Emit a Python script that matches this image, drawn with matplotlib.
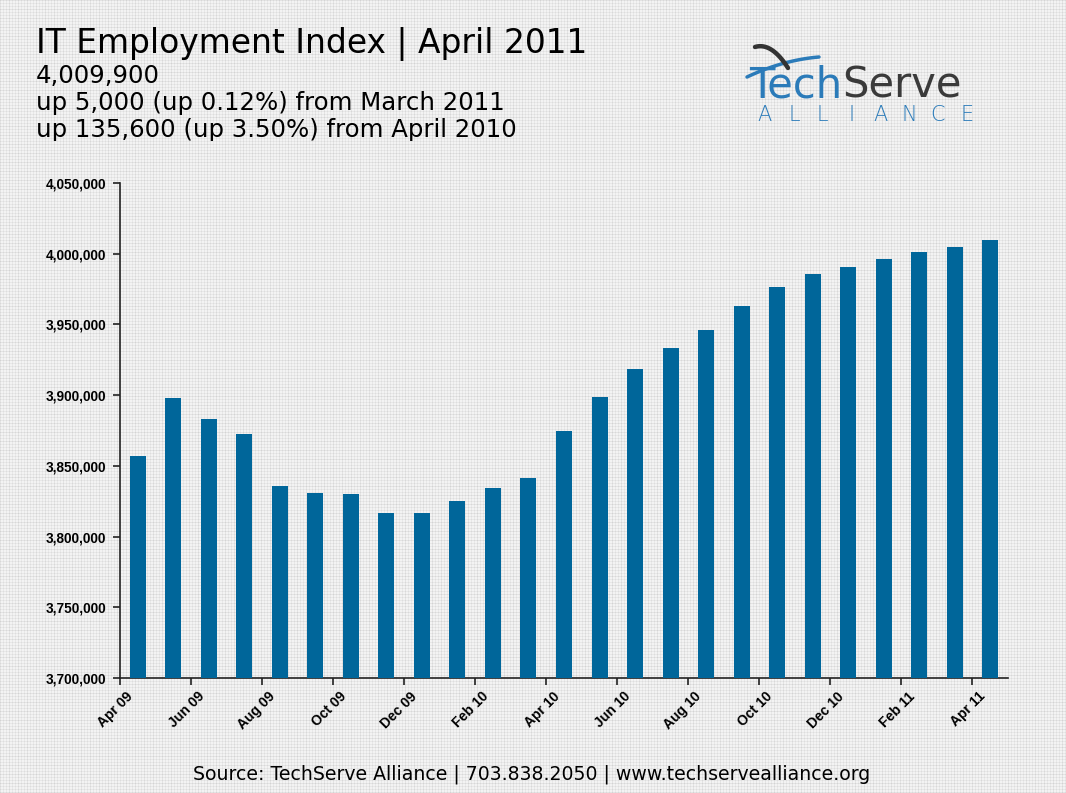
import numpy as np
import matplotlib
matplotlib.use("Agg")
import matplotlib.pyplot as plt
from matplotlib.patches import Rectangle
from matplotlib.ticker import FuncFormatter, FixedLocator

# monthly IT employment index, Apr 2009 .. Apr 2011
months = ["Apr 09", "May 09", "Jun 09", "Jul 09", "Aug 09", "Sep 09", "Oct 09",
          "Nov 09", "Dec 09", "Jan 10", "Feb 10", "Mar 10", "Apr 10", "May 10",
          "Jun 10", "Jul 10", "Aug 10", "Sep 10", "Oct 10", "Nov 10", "Dec 10",
          "Jan 11", "Feb 11", "Mar 11", "Apr 11"]
values = [3857000, 3898000, 3883000, 3872500, 3836000, 3831000, 3830000,
          3817000, 3817000, 3825000, 3834000, 3841500, 3874300, 3898700,
          3918500, 3933000, 3946000, 3963000, 3976500, 3985700, 3990600,
          3996300, 4001200, 4004900, 4009900]
y_ticks = [3700000, 3750000, 3800000, 3850000, 3900000, 3950000, 4000000, 4050000]

W, H = 1066, 793
BAR = "#00669a"
LOGO_BLUE = "#2b7bb9"

fig = plt.figure(figsize=(W / 100, H / 100), dpi=100)

# textured light-gray background
bg = fig.add_axes([0, 0, 1, 1], zorder=-10)
tex = np.full((H, W), 0.955)
tex[::3, :] -= 0.045
tex[:, ::3] -= 0.045
tex[::9, :] -= 0.02
tex[:, ::9] -= 0.02
bg.imshow(tex, cmap="gray", vmin=0, vmax=1, aspect="auto", interpolation="nearest")
bg.axis("off")

# main chart
ax = fig.add_axes([120 / W, 1 - 678 / H, (1008 - 120) / W, (678 - 183) / H])
ax.set_facecolor("none")
x = np.arange(len(months))
ax.bar(x, values, width=0.45, color=BAR, zorder=3)
ax.set_xlim(-0.5, len(months) - 0.5)
ax.set_ylim(y_ticks[0], y_ticks[-1])

ax.yaxis.set_major_locator(FixedLocator(y_ticks))
ax.yaxis.set_major_formatter(FuncFormatter(lambda v, p: f"{int(v):,}"))
ax.set_xticks(x[::2] - 0.5)
ax.set_xticklabels([])
for i in x[::2]:
    ax.text(i - 0.05, y_ticks[0] - 8000, months[i], rotation=45, ha="right", va="top",
            fontsize=10, fontweight="bold", family="Liberation Sans")

for s in ["top", "right"]:
    ax.spines[s].set_visible(False)
for s in ["left", "bottom"]:
    ax.spines[s].set_color("#222222")
    ax.spines[s].set_linewidth(1.2)
ax.tick_params(axis="both", direction="out", length=5, width=1.2, color="#222222")
ax.tick_params(axis="y", pad=5)
for lab in ax.get_yticklabels():
    lab.set_fontsize(9.8)
    lab.set_fontweight("bold")
    lab.set_family("Liberation Sans")

# header text (the text box is cut off at the bottom, as in the original)
clip = Rectangle((0, 1 - 141 / H), 1, 141 / H, transform=fig.transFigure,
                 facecolor="none", edgecolor="none")
fig.text(36 / W, 1 - 53 / H, "IT Employment Index | April 2011", fontsize=23.7,
         family="DejaVu Sans", va="baseline")
sub = ["4,009,900", "up 5,000 (up 0.12%) from March 2011",
       "up 135,600 (up 3.50%) from April 2010"]
for k, line in enumerate(sub):
    t = fig.text(36 / W, 1 - (83 + 27 * k) / H, line, fontsize=17.6,
                 family="DejaVu Sans", va="baseline")
    t.set_clip_on(True)
    t.set_clip_path(clip)

fig.text(532 / W, 1 - 780 / H,
         "Source: TechServe Alliance | 703.838.2050 | www.techservealliance.org",
         fontsize=13.6, family="DejaVu Sans", ha="center", va="baseline")

# logo
lg = fig.add_axes([0, 0, 1, 1], zorder=5)
lg.set_xlim(0, W)
lg.set_ylim(H, 0)
lg.axis("off")
s = np.linspace(0, 1, 60)
bx = 747 + 72 * s
by = 77 - 34 * s + 14 * s ** 2
lg.plot(bx, by, color=LOGO_BLUE, lw=2.5, solid_capstyle="round")
dx = 755 + 33 * s
dy = 47 - 10 * s + 31 * s ** 2
lg.plot(dx, dy, color="#333333", lw=3.2, solid_capstyle="round")
t1 = lg.text(749, 98, "Tech", color=LOGO_BLUE, fontsize=30, family="DejaVu Sans",
             va="baseline")
fig.canvas.draw()
bb = t1.get_window_extent()
x_end = lg.transData.inverted().transform((bb.x1, bb.y0))[0]
lg.text(x_end, 98, "Serve", color="#3a3a3a", fontsize=30, family="DejaVu Sans",
        va="baseline")
for k, ch in enumerate("ALLIANCE"):
    lg.text(765 + k * 28.8, 121, ch, color=LOGO_BLUE, fontsize=15,
            family="DejaVu Sans", va="baseline", ha="center", fontweight="light")

fig.savefig("out.png", dpi=100)
